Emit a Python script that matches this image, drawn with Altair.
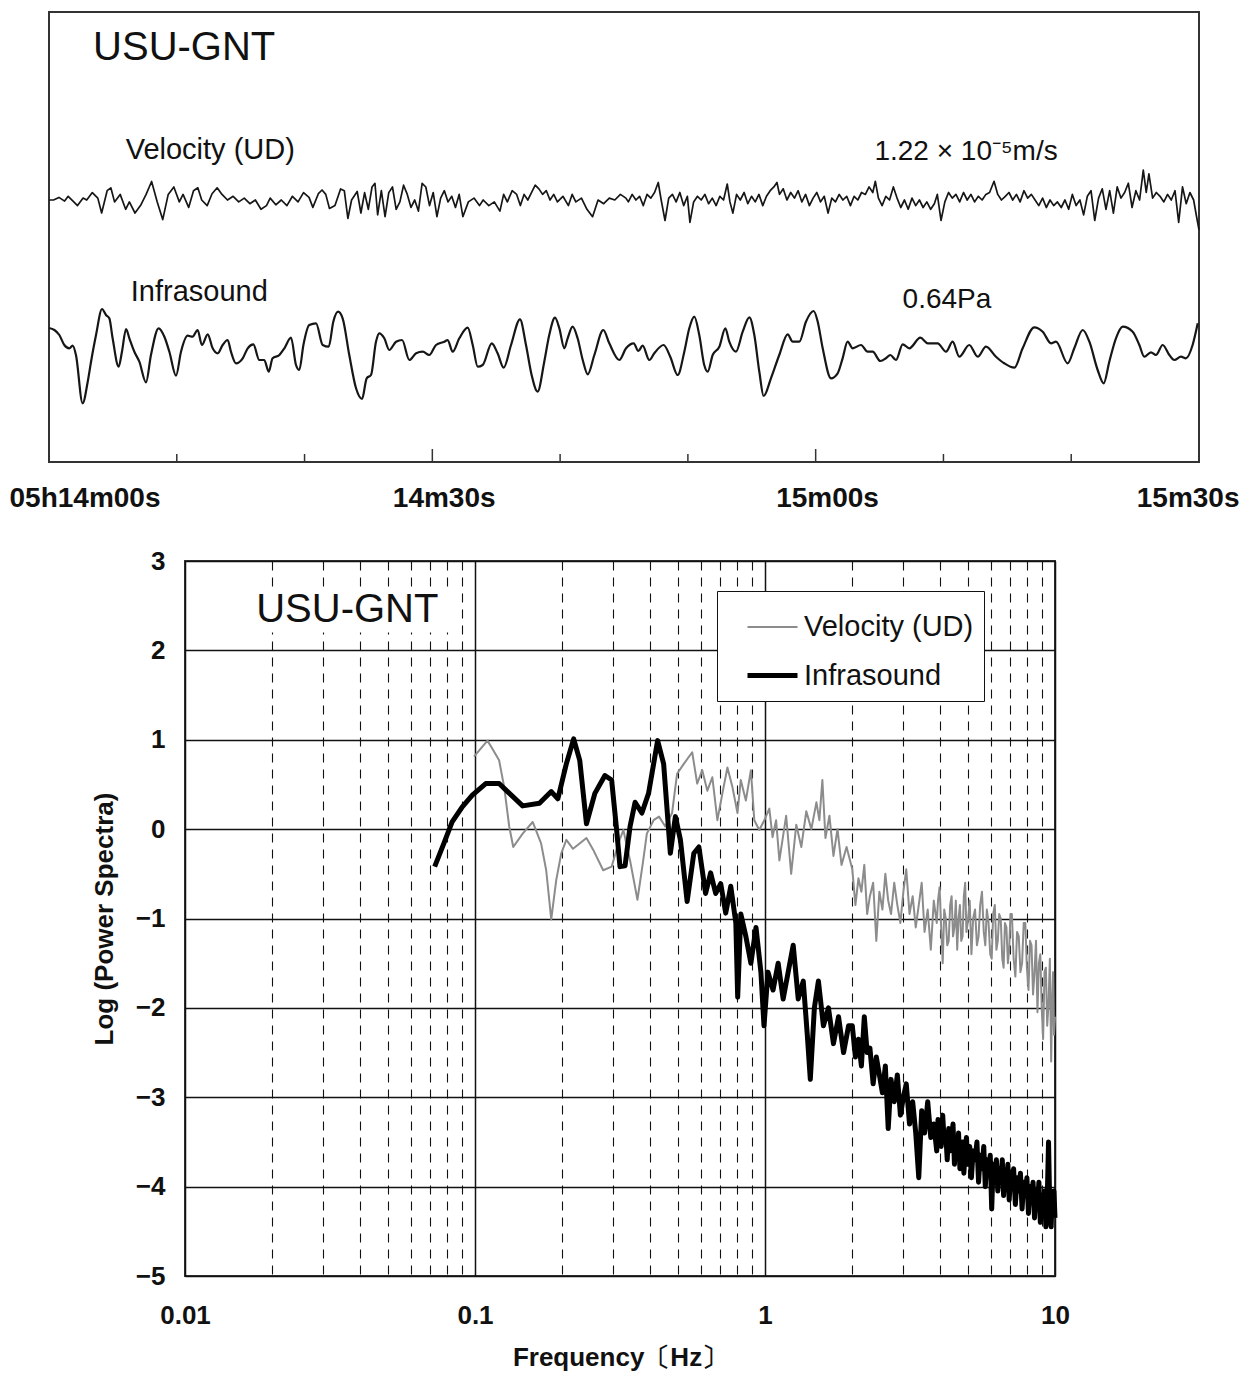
import altair as alt
import pandas as pd

FONT = "Liberation Sans"

# ---------------- waveform panel (seconds after 05h14m00s) ----------------
time_ticks = [0, 30, 60, 90]
time_labels = ["05h14m00s", "14m30s", "15m00s", "15m30s"]
minor_ticks = [10, 20, 40, 50, 70, 80]
major_ticks = [30, 60]

# vertical velocity (UD), relative amplitude
velocity_trace = [
    (0.00, 0.0), (0.35, 0.0), (0.78, 2.6), (1.22, -1.1), (1.50, 3.7), (1.94, -1.9), (2.23, -5.6),
    (2.67, 1.9), (2.95, 0.0), (3.39, 7.4), (3.82, 1.9), (4.12, -13.0), (4.55, 9.3), (4.84, 12.2),
    (5.13, -1.9), (5.57, 5.6), (6.00, -9.3), (6.29, -1.9), (6.73, -13.0), (7.16, -5.6), (7.60, 5.6),
    (8.03, 18.5), (8.47, -1.9), (8.90, -19.6), (9.33, 5.6), (9.77, 13.0), (10.20, -1.9), (10.49, 5.6),
    (10.93, -7.4), (11.31, 9.3), (11.65, 12.2), (11.95, 0.0), (12.38, -5.6), (12.76, 6.3), (13.16, 12.2),
    (13.54, 5.6), (13.97, 0.0), (14.41, 3.7), (14.85, -1.9), (15.28, 1.9), (15.72, -3.7), (16.15, 0.0),
    (16.59, -9.3), (17.02, -5.6), (17.31, 1.9), (17.75, -4.8), (18.18, 0.0), (18.62, -5.6), (19.05, 3.7),
    (19.49, -1.9), (19.92, 7.4), (20.35, 2.6), (20.65, -7.4), (21.08, 6.3), (21.37, 10.0), (21.66, 5.6),
    (21.95, -8.5), (22.38, -5.6), (22.82, 11.1), (23.11, 9.3), (23.39, -18.5), (23.68, 0.0), (24.12, 8.5),
    (24.41, -13.0), (24.70, 7.4), (24.99, -9.3), (25.28, 13.0), (25.51, 16.7), (25.72, -14.8), (26.01, 9.3),
    (26.30, -16.7), (26.59, 7.4), (26.88, 13.0), (27.17, -9.3), (27.46, -1.9), (27.75, 14.8), (28.04, 5.6),
    (28.33, -7.4), (28.62, 0.0), (28.91, -11.1), (29.20, 16.7), (29.49, 13.0), (29.78, -5.6), (30.07, 7.4),
    (30.36, -16.7), (30.65, 1.9), (30.94, 9.3), (31.23, -1.9), (31.52, 3.7), (31.81, -7.4), (32.10, 5.6),
    (32.39, -16.7), (32.82, -1.9), (33.26, 1.9), (33.69, -5.6), (33.98, 0.0), (34.42, -5.6), (34.85, -1.9),
    (35.29, -11.1), (35.58, 5.6), (35.87, -1.9), (36.25, 9.3), (36.60, 5.6), (36.89, -5.6), (37.18, 5.6),
    (37.47, 0.0), (37.76, 7.4), (38.05, 14.8), (38.34, 11.1), (38.63, 5.6), (38.92, 9.3), (39.21, 0.0),
    (39.50, 5.6), (39.79, -1.9), (40.22, 3.7), (40.65, -5.6), (40.94, 5.6), (41.23, -1.9), (41.67, 1.9),
    (42.10, -9.3), (42.54, -16.7), (42.97, 0.0), (43.41, -3.7), (43.85, 1.9), (44.28, 0.0), (44.72, 5.6),
    (45.15, 1.9), (45.34, -1.9), (45.64, 5.6), (45.93, 0.0), (46.22, 3.7), (46.51, -5.6), (46.80, 5.6),
    (47.10, 1.9), (47.39, 7.5), (47.68, 17.5), (47.91, 0.0), (48.21, -20.5), (48.50, 1.9), (48.79, 5.6),
    (49.08, -1.9), (49.37, 7.5), (49.67, -5.6), (49.96, 3.7), (50.16, -22.4), (50.45, -1.9), (50.75, 3.7),
    (51.04, 0.0), (51.33, 5.6), (51.62, -3.7), (51.91, 1.9), (52.21, -5.6), (52.50, 3.7), (52.79, 0.0),
    (53.08, 16.0), (53.29, -1.9), (53.52, -13.1), (53.81, 5.6), (54.10, 0.0), (54.40, 7.5), (54.69, -3.7),
    (54.98, 3.7), (55.27, -1.9), (55.56, 5.6), (55.86, -5.6), (56.15, 3.7), (56.44, 9.3), (56.73, 13.1),
    (56.97, 17.5), (57.17, 5.6), (57.46, 11.2), (57.75, 0.0), (58.05, 7.5), (58.34, 1.9), (58.63, 9.3),
    (58.92, -1.9), (59.21, 5.6), (59.51, -5.6), (59.80, 1.9), (60.09, 7.5), (60.38, -1.9), (60.67, 3.7),
    (60.97, -13.1), (61.26, 1.9), (61.55, -1.9), (61.84, 5.6), (62.13, 0.0), (62.43, 3.7), (62.72, -5.6),
    (63.01, 3.7), (63.30, 0.0), (63.59, 7.5), (63.89, 5.6), (64.18, 13.1), (64.47, 7.5), (64.67, 18.7),
    (64.91, 1.9), (65.20, -5.6), (65.49, 3.7), (65.78, 0.0), (66.08, 13.1), (66.37, 1.9), (66.66, -7.5),
    (66.95, 0.0), (67.24, -9.3), (67.54, 1.9), (67.83, -5.6), (68.12, 0.0), (68.41, -7.5), (68.70, -1.9),
    (69.00, -9.3), (69.29, -3.7), (69.52, 5.6), (69.81, -20.5), (70.11, -1.9), (70.40, 7.5), (70.69, 1.9),
    (70.98, 5.6), (71.27, -1.9), (71.57, 7.5), (71.86, 0.0), (72.15, 5.6), (72.44, -1.9), (72.73, 3.7),
    (73.03, 0.0), (73.32, 5.6), (73.61, 7.5), (73.96, 18.7), (74.25, 5.6), (74.54, 0.0), (74.84, 3.7),
    (75.13, 7.5), (75.42, 0.0), (75.71, 5.6), (76.00, -1.9), (76.30, 9.3), (76.59, 1.9), (76.88, 5.6),
    (77.17, 0.0), (77.46, -5.6), (77.76, 1.9), (78.05, -7.5), (78.34, 0.0), (78.63, -5.6), (78.92, -1.9),
    (79.22, -7.5), (79.51, 0.0), (79.80, -9.3), (80.09, 5.6), (80.38, -5.6), (80.68, 0.0), (80.97, -14.9),
    (81.26, 3.7), (81.55, 9.3), (81.84, -20.5), (82.14, 1.9), (82.43, 11.2), (82.72, -9.3), (83.01, 9.3),
    (83.30, -13.1), (83.60, 13.1), (83.89, 1.9), (84.18, 7.5), (84.47, 16.8), (84.76, -7.5), (85.06, 9.3),
    (85.35, 0.0), (85.64, 29.8), (85.87, 7.5), (86.08, 26.1), (86.37, 1.9), (86.66, 7.5), (86.95, 3.7),
    (87.25, -1.9), (87.54, 5.6), (87.83, 0.0), (88.12, 9.3), (88.41, -22.4), (88.71, 13.1), (89.00, -3.7),
    (89.29, 7.5), (89.58, 0.0), (89.80, -16.0), (90.00, -29.8),
]

# infrasound pressure, relative amplitude
infrasound_trace = [
    (0.00, 17.0), (0.42, 15.0), (0.81, 10.0), (1.20, 0.0), (1.59, -3.3), (1.85, -0.7), (2.11, -10.0),
    (2.63, -58.3), (3.03, -36.7), (3.29, -16.7), (3.68, 10.0), (4.15, 36.0), (4.46, 30.0), (4.72, 26.7),
    (4.98, 6.7), (5.45, -21.7), (5.71, -6.7), (6.03, 16.0), (6.29, 6.7), (6.68, -6.7), (7.07, -16.7),
    (7.59, -37.3), (7.98, -10.0), (8.58, 16.7), (9.03, 8.3), (9.42, -6.7), (9.94, -30.7), (10.33, -6.7),
    (10.85, 9.3), (11.24, 8.3), (11.63, 15.0), (11.97, 0.0), (12.42, 10.7), (12.81, -3.3), (13.20, -8.3),
    (13.59, 0.0), (13.98, 5.0), (14.24, -6.7), (14.63, -18.3), (15.16, -13.3), (15.55, -3.3), (15.99, 0.7),
    (16.46, -15.0), (16.85, -15.0), (17.19, -26.7), (17.50, -13.3), (18.03, -10.0), (18.42, -3.3),
    (18.94, 7.3), (19.33, -20.0), (19.59, -25.0), (19.91, 0.0), (20.37, 20.0), (20.90, 21.7), (21.42, 0.0),
    (21.89, -1.7), (22.25, 23.3), (22.62, 33.3), (22.98, 26.7), (23.50, -10.0), (24.03, -43.3), (24.50, -54.0),
    (24.86, -33.3), (25.20, -30.0), (25.59, 3.3), (25.85, 11.7), (26.24, 6.7), (26.63, -5.0), (27.16, 3.3),
    (27.63, 5.0), (28.20, -15.0), (28.73, -8.3), (29.25, -6.7), (29.76, -10.0), (30.29, 0.0), (30.94, 3.3),
    (31.20, 5.0), (31.59, -6.7), (32.11, 6.7), (32.77, 17.3), (33.16, 0.0), (33.55, -21.7), (33.94, -20.0),
    (34.65, 1.7), (35.11, -8.3), (35.58, -22.7), (36.16, 0.0), (36.86, 25.7), (37.33, 0.0), (37.77, -30.0),
    (38.24, -46.7), (38.76, -16.7), (39.15, 10.0), (39.60, 27.3), (39.94, 16.7), (40.33, -3.3), (40.59, 6.7),
    (40.98, 18.3), (41.37, 6.7), (41.77, -15.0), (42.16, -29.3), (42.68, -10.0), (43.38, 15.0), (43.85, 1.7),
    (44.63, -15.0), (45.16, -3.3), (45.76, 1.7), (46.12, -6.0), (46.46, -0.7), (46.98, -15.0), (47.37, -8.3),
    (48.10, 0.0), (48.62, -11.7), (49.20, -30.0), (49.72, -6.7), (50.11, 16.7), (50.50, 28.3), (50.89, 10.0),
    (51.28, -20.0), (51.55, -26.7), (51.94, -10.0), (52.46, -1.7), (52.93, 16.7), (53.24, 3.3), (53.76, -6.7),
    (54.29, 13.3), (54.81, 27.7), (55.20, 10.0), (55.59, -26.7), (55.93, -51.0), (56.50, -33.3), (57.15, -10.0),
    (57.81, 10.7), (58.20, 3.3), (58.72, 3.3), (59.24, 23.3), (59.84, 34.0), (60.16, 23.3), (60.55, -3.3),
    (61.20, -33.3), (61.72, -28.3), (62.11, -13.3), (62.50, 3.3), (62.90, -3.3), (63.55, 0.0), (64.07, -6.7),
    (64.46, -6.7), (65.06, -16.0), (65.50, -13.3), (65.84, -10.0), (66.29, -15.0), (66.81, 0.7), (67.33, -3.3),
    (68.19, 7.3), (68.77, 1.7), (69.55, 1.7), (70.20, -6.7), (70.72, 3.3), (71.24, -11.7), (72.02, 0.0),
    (72.68, -11.7), (73.33, -1.7), (74.11, -11.7), (74.76, -18.3), (75.55, -22.7), (76.20, -3.3), (77.11, 17.7),
    (77.77, 13.3), (78.42, 1.7), (78.81, 3.3), (79.72, -18.3), (80.24, -3.3), (80.90, 15.0), (81.42, 3.3),
    (82.07, -25.0), (82.54, -38.3), (82.98, -16.7), (83.50, 6.7), (84.03, 18.3), (84.81, 13.3), (85.33, 0.0),
    (85.72, -11.7), (86.24, -7.3), (86.63, -10.0), (87.16, 0.0), (87.68, -10.0), (88.07, -15.0), (88.59, -11.7),
    (88.98, -13.3), (89.50, 0.0), (89.90, 21.7),
]

# ---------------- spectra: (frequency Hz, log10 power) ----------------
velocity_spectrum = [
    (0.0992, 0.81), (0.1104, 0.99), (0.1148, 0.90), (0.1211, 0.77), (0.1261, 0.47), (0.1312, 0.03),
    (0.1355, -0.20), (0.146, -0.05), (0.1581, 0.08), (0.169, -0.16), (0.176, -0.46), (0.1832, -1.01),
    (0.1906, -0.57), (0.1984, -0.27), (0.2065, -0.12), (0.2178, -0.22), (0.2423, -0.10), (0.2555, -0.23),
    (0.2767, -0.46), (0.2959, -0.42), (0.312, -0.16), (0.3248, -0.01), (0.3425, -0.35), (0.3632, -0.79),
    (0.3791, -0.38), (0.3914, -0.05), (0.4128, 0.10), (0.4311, 0.14), (0.4532, 0.03), (0.4781, 0.18),
    (0.4976, 0.62), (0.5248, 0.73), (0.561, 0.86), (0.5837, 0.51), (0.6076, 0.66), (0.6327, 0.43),
    (0.6583, 0.58), (0.6852, 0.10), (0.713, 0.40), (0.742, 0.69), (0.7722, 0.47), (0.8037, 0.18),
    (0.825, 0.55), (0.859, 0.32), (0.8941, 0.66), (0.9184, 0.10), (0.9557, -0.01), (0.9947, 0.10),
    (1.035, 0.23), (1.062, -0.09), (1.092, 0.10), (1.121, -0.35), (1.183, 0.15), (1.231, -0.5),
    (1.282, 0.05), (1.334, -0.2), (1.388, 0.2), (1.445, 0.0), (1.504, 0.3), (1.540, 0.1), (1.577, 0.55),
    (1.616, -0.1), (1.668, 0.15), (1.722, -0.3), (1.778, 0.0), (1.836, -0.4), (1.911, -0.2),
    (2.00, -0.45), (2.05, -0.85), (2.10, -0.55), (2.15, -0.70), (2.20, -0.40), (2.25, -0.95), (2.30, -0.75),
    (2.36, -0.60), (2.42, -1.25), (2.48, -0.70), (2.54, -0.90), (2.60, -0.50), (2.66, -0.80), (2.72, -0.95),
    (2.79, -0.60), (2.86, -0.85), (2.93, -1.05), (3.00, -0.70), (3.07, -0.45), (3.15, -0.95), (3.23, -0.75),
    (3.31, -1.10), (3.39, -0.85), (3.47, -0.60), (3.55, -1.15), (3.64, -0.90), (3.73, -1.35), (3.82, -0.80),
    (3.91, -1.05), (3.95, -0.80), (4.00, -0.65), (4.05, -1.10), (4.10, -1.50), (4.15, -0.90), (4.20, -1.00),
    (4.25, -1.30), (4.30, -1.25), (4.35, -0.85), (4.40, -0.75), (4.45, -1.20), (4.50, -1.10), (4.55, -0.80),
    (4.60, -1.35), (4.65, -1.00), (4.70, -0.85), (4.75, -1.25), (4.80, -1.20), (4.85, -0.75), (4.90, -0.60),
    (4.95, -1.15), (5.00, -1.05), (5.08, -0.80), (5.15, -1.40), (5.22, -1.00), (5.30, -0.90), (5.38, -1.30),
    (5.45, -1.20), (5.52, -0.85), (5.60, -0.70), (5.68, -1.15), (5.75, -1.30), (5.82, -0.90), (5.90, -1.05),
    (5.98, -1.40), (6.05, -1.45), (6.12, -0.95), (6.20, -0.85), (6.28, -1.35), (6.35, -1.25), (6.42, -0.95),
    (6.50, -1.00), (6.58, -1.45), (6.65, -1.55), (6.72, -1.05), (6.80, -1.10), (6.88, -1.50), (6.95, -1.35),
    (7.02, -0.95), (7.10, -0.95), (7.20, -1.45), (7.30, -1.65), (7.40, -1.15), (7.50, -1.20), (7.60, -1.60),
    (7.70, -1.50), (7.80, -1.05), (7.90, -1.05), (8.00, -1.55), (8.10, -1.80), (8.20, -1.25), (8.30, -1.30),
    (8.40, -1.85), (8.50, -1.60), (8.60, -1.25), (8.70, -2.05), (8.80, -1.50), (8.90, -1.40), (9.00, -2.00),
    (9.10, -2.35), (9.20, -1.60), (9.30, -1.55), (9.40, -2.20), (9.50, -1.95), (9.60, -1.45), (9.70, -2.60),
    (9.78, -1.90), (9.85, -1.60), (9.92, -2.30), (10.0, -2.10),
]

infrasound_spectrum = [
    (0.0726, -0.42), (0.0781, -0.16), (0.0834, 0.08), (0.0904, 0.25), (0.0979, 0.38), (0.1089, 0.51),
    (0.1211, 0.51), (0.1295, 0.42), (0.146, 0.26), (0.1668, 0.29), (0.1832, 0.42), (0.1931, 0.34),
    (0.2065, 0.73), (0.2189, 1.01), (0.2297, 0.77), (0.2423, 0.06), (0.259, 0.40), (0.2805, 0.60),
    (0.2959, 0.55), (0.3079, -0.01), (0.3162, -0.42), (0.3292, -0.41), (0.3425, 0.03), (0.3565, 0.30),
    (0.3762, 0.18), (0.3967, 0.40), (0.4263, 0.99), (0.4472, 0.73), (0.4717, -0.27), (0.4909, 0.14),
    (0.5109, -0.12), (0.5389, -0.81), (0.5683, -0.27), (0.5916, -0.20), (0.6239, -0.72), (0.6494, -0.49),
    (0.6761, -0.72), (0.7035, -0.61), (0.7321, -0.94), (0.762, -0.64), (0.7933, -1.05), (0.805, -1.88),
    (0.8254, -0.95), (0.859, -1.2), (0.894, -1.5), (0.931, -1.1), (0.968, -1.6), (0.992, -2.2), (1.024, -1.6),
    (1.066, -1.8), (1.110, -1.5), (1.155, -1.9), (1.202, -1.6), (1.251, -1.3), (1.302, -1.9), (1.355, -1.7),
    (1.399, -2.3), (1.433, -2.8), (1.480, -2.0), (1.528, -1.7), (1.590, -2.2), (1.655, -2.0), (1.722, -2.4),
    (1.793, -2.1), (1.866, -2.5), (1.942, -2.2),
    (2.00, -2.20), (2.05, -2.55), (2.10, -2.35), (2.15, -2.65), (2.20, -2.10), (2.25, -2.50), (2.30, -2.45),
    (2.36, -2.85), (2.42, -2.55), (2.48, -2.75), (2.54, -2.95), (2.60, -2.65), (2.66, -3.35), (2.72, -2.80),
    (2.79, -3.05), (2.86, -2.75), (2.93, -3.20), (3.00, -3.00), (3.07, -2.85), (3.15, -3.30), (3.23, -3.05),
    (3.31, -3.40), (3.39, -3.90), (3.47, -3.15), (3.55, -3.40), (3.64, -3.05), (3.73, -3.45), (3.82, -3.30),
    (3.91, -3.60), (3.95, -3.25), (4.00, -3.35), (4.05, -3.55), (4.10, -3.20), (4.15, -3.50), (4.20, -3.40),
    (4.25, -3.70), (4.30, -3.35), (4.35, -3.60), (4.40, -3.45), (4.45, -3.30), (4.50, -3.75), (4.55, -3.45),
    (4.60, -3.65), (4.65, -3.40), (4.70, -3.80), (4.75, -3.55), (4.80, -3.50), (4.85, -3.85), (4.90, -3.60),
    (4.95, -3.45), (5.00, -3.75), (5.08, -3.55), (5.15, -3.90), (5.22, -3.60), (5.30, -3.70), (5.38, -3.50),
    (5.45, -3.95), (5.52, -3.65), (5.60, -3.80), (5.68, -3.55), (5.75, -4.00), (5.82, -3.70), (5.90, -3.85),
    (5.98, -3.65), (6.05, -4.25), (6.12, -3.75), (6.20, -3.90), (6.28, -3.70), (6.35, -4.05), (6.42, -3.80),
    (6.50, -3.95), (6.58, -3.70), (6.65, -4.10), (6.72, -3.85), (6.80, -3.95), (6.88, -3.75), (6.95, -4.15),
    (7.02, -3.90), (7.10, -4.00), (7.20, -3.80), (7.30, -4.20), (7.40, -3.90), (7.50, -4.05), (7.60, -3.85),
    (7.70, -4.25), (7.80, -3.95), (7.90, -4.10), (8.00, -3.90), (8.10, -4.30), (8.20, -4.00), (8.30, -4.15),
    (8.40, -3.95), (8.50, -4.35), (8.60, -4.05), (8.70, -4.20), (8.80, -3.95), (8.90, -4.40), (9.00, -4.10),
    (9.10, -4.25), (9.20, -4.05), (9.30, -4.45), (9.40, -4.15), (9.50, -3.50), (9.60, -4.30), (9.70, -4.45),
    (9.78, -4.10), (9.85, -4.30), (9.92, -4.05), (10.0, -4.35),
]

series_names = ["Velocity (UD)", "Infrasound"]
freq_decades = [0.01, 0.1, 1, 10]
freq_ticks = [round(d * k, 6) for d in freq_decades[:-1] for k in range(1, 10)] + [10]
power_ticks = list(range(-5, 4))

# ---------------- waveform panel ----------------
VEL_BASE, INF_BASE = 262, 117  # trace baselines on the 0..450 panel scale
vel_df = pd.DataFrame(velocity_trace, columns=["t", "a"]).assign(y=lambda d: d.a + VEL_BASE)
inf_df = pd.DataFrame(infrasound_trace, columns=["t", "a"]).assign(y=lambda d: d.a + INF_BASE)

label_expr = " : ".join(f"datum.value == {v} ? '{s}'" for v, s in zip(time_ticks, time_labels)) + " : ''"
last_tick = f"datum.value == {time_ticks[-1]}"

tx = alt.X("t:Q", scale=alt.Scale(domain=[0, 90], nice=False),
           axis=alt.Axis(values=time_ticks, labelExpr=label_expr, title=None, grid=False,
                         ticks=False, domain=False, labelFont=FONT, labelFontSize=28,
                         labelFontWeight="bold", labelColor="#111", labelPadding=22,
                         labelFlush=False, labelOverlap=False,
                         labelAlign={"condition": {"test": last_tick, "value": "right"}, "value": "left"},
                         labelOffset={"condition": {"test": last_tick, "value": 40}, "value": -40}))
ty = alt.Y("y:Q", scale=alt.Scale(domain=[0, 450], nice=False), axis=None)

vel_line = alt.Chart(vel_df).mark_line(color="#161616", strokeWidth=1.7, strokeJoin="round").encode(x=tx, y=ty)
inf_line = alt.Chart(inf_df).mark_line(color="#161616", strokeWidth=2.2, strokeJoin="round",
                                       interpolate="monotone").encode(x=tx, y=ty)

minor = alt.Chart(pd.DataFrame({"t": minor_ticks})).mark_rule(color="#333", strokeWidth=1.5).encode(
    x="t:Q", y=alt.value(450), y2=alt.value(442))
major = alt.Chart(pd.DataFrame({"t": major_ticks})).mark_rule(color="#333", strokeWidth=1.5).encode(
    x="t:Q", y=alt.value(450), y2=alt.value(437))

wave_notes = pd.DataFrame({
    "t": [3.45, 6.0, 64.6, 6.4, 66.8],
    "y": [414, 312, 310, 170, 162],
    "text": ["USU-GNT", "Velocity (UD)", "1.22 × 10⁻⁵m/s", "Infrasound", "0.64Pa"],
    "fs": [40, 29, 28, 29, 28],
})
wave_text = alt.Chart(wave_notes).mark_text(align="left", baseline="middle", font=FONT, color="#111").encode(
    x="t:Q", y="y:Q", text="text:N", size=alt.Size("fs:Q", scale=None))

top = alt.layer(vel_line, inf_line, minor, major, wave_text).properties(width=1150, height=450)

# ---------------- spectrum panel ----------------
spec = pd.concat([
    pd.DataFrame(velocity_spectrum, columns=["f", "p"]).assign(series=series_names[0]),
    pd.DataFrame(infrasound_spectrum, columns=["f", "p"]).assign(series=series_names[1]),
])

decade_test = "indexof([0.01, 0.1, 1, 10], datum.value) >= 0"
fx = alt.X("f:Q", scale=alt.Scale(type="log", domain=[0.01, 10], nice=False),
           axis=alt.Axis(values=freq_ticks, format="~g",
                         labelExpr=f"{decade_test} ? datum.label : ''",
                         grid=True, gridColor="#111",
                         gridDash={"condition": {"test": decade_test, "value": []}, "value": [9, 7]},
                         gridWidth={"condition": {"test": decade_test, "value": 1.5}, "value": 1.1},
                         ticks=False, domain=False, labelFlush=False, labelOverlap=False,
                         labelFont=FONT, labelFontSize=26, labelFontWeight="bold", labelColor="#111",
                         labelPadding=26, title="Frequency〔Hz〕", titleFont=FONT, titleFontSize=26,
                         titleFontWeight="bold", titleColor="#111", titlePadding=16))
fy = alt.Y("p:Q", scale=alt.Scale(domain=[-5, 3], nice=False),
           axis=alt.Axis(values=power_ticks, format="d", grid=True, gridColor="#111", gridWidth=1.5,
                         ticks=False, domain=False, labelFont=FONT, labelFontSize=26,
                         labelFontWeight="bold", labelColor="#111", labelPadding=20,
                         title="Log (Power Spectra)", titleFont=FONT, titleFontSize=26,
                         titleFontWeight="bold", titleColor="#111", titlePadding=18))

color_scale = alt.Scale(domain=series_names, range=["#8c8c8c", "#000000"])
width_scale = alt.Scale(domain=series_names, range=[2.0, 5.0])
# legends of a concatenated chart are placed from the first panel's origin
legend = alt.Legend(orient="none", legendX=668, legendY=579, title=None, fillColor="white",
                    strokeColor="#111", padding=10, labelFont=FONT, labelFontSize=29,
                    labelColor="#111", labelLimit=400, symbolType="stroke", symbolSize=2500,
                    symbolOffset=18, labelOffset=4, rowPadding=6)

def spectrum_line(name):
    return alt.Chart(spec).transform_filter(alt.datum.series == name).mark_line(strokeJoin="round").encode(
        x=fx, y=fy,
        color=alt.Color("series:N", scale=color_scale, legend=legend),
        strokeWidth=alt.StrokeWidth("series:N", scale=width_scale, legend=legend),
    )

# station label on a white patch that hides the grid behind it
label_box = alt.Chart(pd.DataFrame({"f": [0.0172], "f2": [0.086], "p": [2.2], "p2": [2.7]})).mark_rect(
    color="white").encode(x="f:Q", x2="f2:Q", y="p:Q", y2="p2:Q")
spec_notes = pd.DataFrame({"f": [0.0176], "p": [2.45], "text": ["USU-GNT"]})
spec_text = alt.Chart(spec_notes).mark_text(align="left", baseline="middle", font=FONT,
                                            fontSize=40, color="#111").encode(
    x="f:Q", y="p:Q", text="text:N")

bottom = alt.layer(label_box, spectrum_line(series_names[0]), spectrum_line(series_names[1]),
                   spec_text).properties(width=870, height=715)

spacer = alt.Chart(pd.DataFrame({"a": [0]})).mark_point(opacity=0).encode(
    x=alt.X("a:Q", axis=None), y=alt.Y("a:Q", axis=None)
).properties(width=136, height=10, view=alt.ViewBackground(stroke="transparent"))

row2 = alt.hconcat(spacer, bottom, spacing=0, bounds="flush")

chart = alt.vconcat(top, row2, spacing=99, bounds="flush").properties(
    padding={"left": 8, "top": 11, "right": 0, "bottom": 0}, background="white"
).configure_view(stroke="#333", strokeWidth=2)

chart.save("out.html", embed_options={"renderer": "svg", "actions": False})
